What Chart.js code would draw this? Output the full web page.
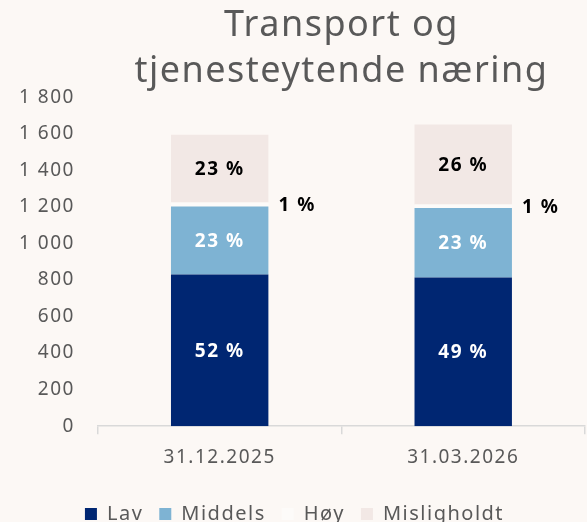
<!DOCTYPE html>
<html>
<head>
<meta charset="utf-8">
<script src="https://cdn.jsdelivr.net/npm/chart.js@4.4.1/dist/chart.umd.min.js"></script>
<style>
  html, body { margin: 0; padding: 0; background: #fcf8f5; overflow: hidden; }
  canvas { display: block; }
</style>
</head>
<body>
<canvas id="chart" width="587" height="534"></canvas>
<script>
// data
const categories = ['31.12.2025', '31.03.2026'];
const lav = [830, 814];
const middels = [372, 379];
const hoy = [22, 20];
const misligholdt = [370, 437];
const yTicks = [0, 200, 400, 600, 800, 1000, 1200, 1400, 1600, 1800];

const FONT = '"Noto Sans", sans-serif';
const GREY = '#595959';
const SPACING = '1.5px';

const totals = categories.map((c, i) => lav[i] + middels[i] + hoy[i] + misligholdt[i]);
const pct = (v, i) => Math.round(v / totals[i] * 100) + ' %';

// background + a bit of letter spacing, the original font is wider
const bgPlugin = {
  id: 'bg',
  beforeUpdate(chart) {
    chart.ctx.letterSpacing = SPACING;
  },
  beforeDraw(chart) {
    const ctx = chart.ctx;
    ctx.letterSpacing = SPACING;
    ctx.save();
    ctx.fillStyle = '#fcf8f5';
    ctx.fillRect(0, 0, chart.width, chart.height);
    ctx.restore();
  }
};

// percent labels on the segments
const labelPlugin = {
  id: 'pctLabels',
  afterDatasetsDraw(chart) {
    const ctx = chart.ctx;
    ctx.save();
    ctx.font = 'bold 19px ' + FONT;
    ctx.textBaseline = 'middle';
    chart.data.datasets.forEach((ds, di) => {
      const meta = chart.getDatasetMeta(di);
      meta.data.forEach((bar, i) => {
        const text = pct(ds.data[i], i);
        const cy = (bar.y + bar.base) / 2 + 1;
        if (ds.outside) {
          ctx.textAlign = 'left';
          ctx.fillStyle = '#000';
          ctx.fillText(text, bar.x + bar.width / 2 + 10, cy);
        } else {
          ctx.textAlign = 'center';
          ctx.fillStyle = ds.labelColor;
          ctx.fillText(text, bar.x, cy);
        }
      });
    });
    ctx.restore();
  }
};

new Chart(document.getElementById('chart'), {
  type: 'bar',
  data: {
    labels: categories,
    datasets: [
      { label: 'Lav', data: lav, backgroundColor: '#002672', labelColor: '#fff' },
      { label: 'Middels', data: middels, backgroundColor: '#7eb3d3', labelColor: '#fff' },
      { label: 'Høy', data: hoy, backgroundColor: '#fdfbf9', outside: true },
      { label: 'Misligholdt', data: misligholdt, backgroundColor: '#f2e8e5', labelColor: '#000' }
    ]
  },
  options: {
    responsive: false,
    animation: false,
    datasets: { bar: { barPercentage: 0.4, categoryPercentage: 1 } },
    layout: { padding: { left: 4, right: 2, top: 0, bottom: 0 } },
    plugins: {
      title: {
        display: true,
        text: ['Transport og', 'tjenesteytende næring'],
        fullSize: false,
        color: GREY,
        font: { family: FONT, size: 36, weight: 'normal', lineHeight: 1.28 },
        padding: { top: 3, bottom: 2 }
      },
      legend: {
        position: 'bottom',
        labels: {
          color: GREY,
          font: { family: FONT, size: 20 },
          boxWidth: 12,
          boxHeight: 12,
          padding: 16
        }
      },
      tooltip: { enabled: false }
    },
    scales: {
      x: {
        stacked: true,
        afterFit(scale) { scale.height += 7; },
        grid: { drawOnChartArea: false, drawTicks: true, tickLength: 8, color: '#d9d9d9', lineWidth: 1.5 },
        border: { color: '#d9d9d9', width: 1.5 },
        ticks: { color: GREY, font: { family: FONT, size: 19 }, padding: 12 }
      },
      y: {
        stacked: true,
        min: 0,
        max: 1800,
        afterBuildTicks(axis) { axis.ticks = yTicks.map(v => ({ value: v })); },
        grid: { display: false },
        border: { display: false },
        ticks: {
          color: GREY,
          font: { family: FONT, size: 19 },
          padding: 15,
          callback: v => v.toLocaleString('nb-NO').replace(/\s/g, ' ')
        }
      }
    }
  },
  plugins: [bgPlugin, labelPlugin]
});
</script>
</body>
</html>
